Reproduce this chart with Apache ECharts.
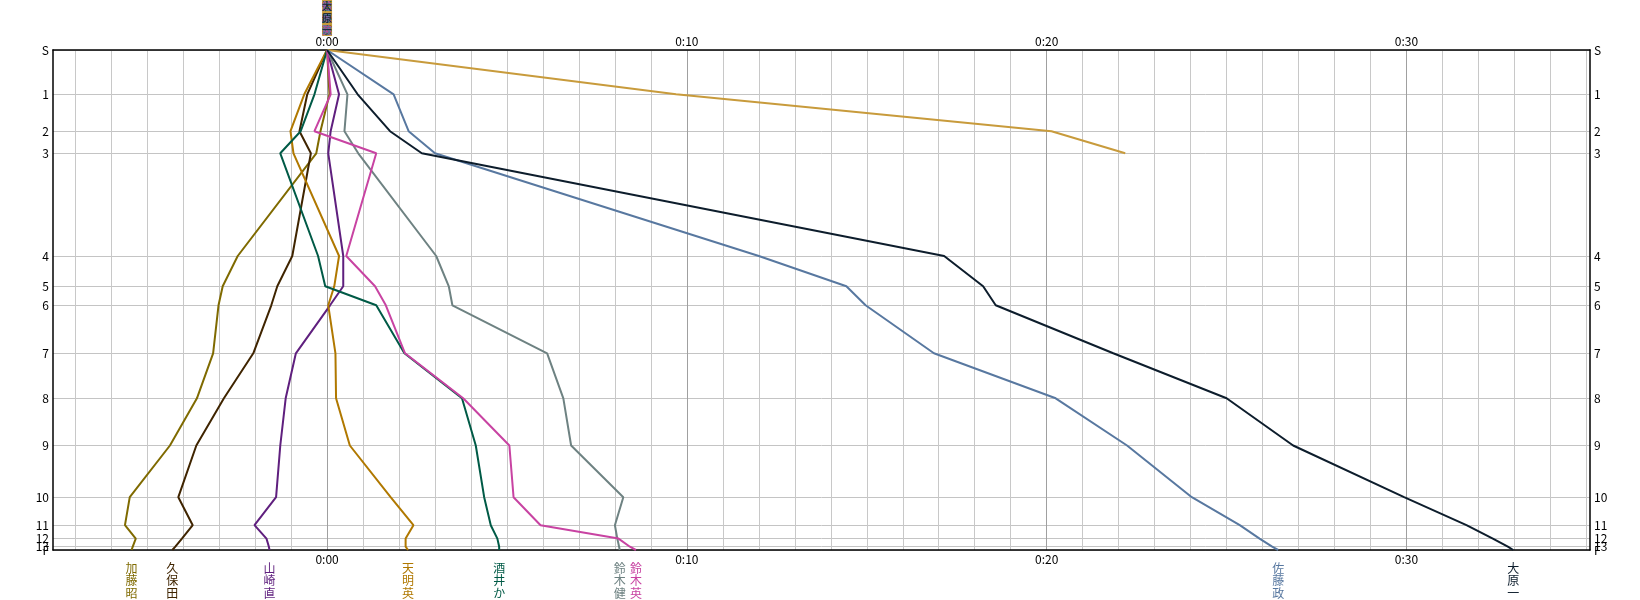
<!DOCTYPE html>
<html>
<head>
<meta charset="utf-8">
<script src="https://cdn.jsdelivr.net/npm/echarts@6/dist/echarts.min.js"></script>
<style>
html,body{margin:0;padding:0;background:#fff;}
#chart{width:1640px;height:600px;}
</style>
</head>
<body>
<div id="chart"></div>
<script>
// Controls (y): labels and their position along the course scale
const controlLabels = ['S','1','2','3','4','5','6','7','8','9','10','11','12','13','F'];
const controlDist   = [0, 44.3, 81.2, 103.3, 206, 236.3, 255.3, 303.3, 348.3, 395.5, 447.2, 475.2, 488.6, 496.7, 500];

// Time-axis labels (seconds)
const timeTicks = [0, 600, 1200, 1800];

// Runners: time difference (seconds) at each control
const runnerNames = ['加藤昭','久保田','山崎直','天明英','酒井か','鈴木健','鈴木英','佐藤政','大原一'];
const katoAki   = [0, 4, -11, -18, -149, -174, -181, -190, -217, -262, -329, -337, -319, -324, -326];
const kubota    = [0, -33, -46, -27, -58, -83, -93, -123, -172, -218, -248, -224, -242, -253, -258];
const yamazaki  = [0, 20, 6, 2, 27, 27, 5, -52, -69, -78, -85, -121, -101, -97, -96];
const tenmyo    = [0, -38, -61, -56, 20, 12, 2, 14, 15, 38, 106, 144, 131, 131, 135];
const sakai     = [0, -21, -44, -78, -15, -3, 82, 129, 225, 248, 262, 273, 284, 287, 287];
const suzukiKen = [0, 34, 29, 52, 182, 203, 209, 367, 394, 407, 494, 480, 484, 487, 488];
const suzukiEi  = [0, 6, -21, 82, 32, 80, 98, 130, 227, 304, 311, 356, 486, 505, 515];
const satoMasa  = [0, 111, 136, 180, 720, 866, 898, 1012, 1215, 1334, 1442, 1522, 1555, 1576, 1586];
const oharaKazu = [0, 51, 105, 158, 1029, 1094, 1115, 1311, 1500, 1611, 1796, 1900, 1944, 1969, 1978];
const dnfRunner = [0, 582, 1208, 1331];

const runnerValues = [katoAki, kubota, yamazaki, tenmyo, sakai, suzukiKen, suzukiEi, satoMasa, oharaKazu];
const runnerColors = ['#7f6a00','#3f2400','#5f1f7e','#b07800','#005a46','#6e8282','#c843a2','#5878a0','#0d1d2c'];
const dnfColor = '#c89b3c';

const X_MIN = -457, X_MAX = 2106;
const minorTicks = [];
for (let s = -420; s <= 2100; s += 60) if (timeTicks.indexOf(s) < 0) minorTicks.push(s);

// Labels "12" and "13" crowd "F": each gets its own overlay axis so all are drawn
const crowded = ['12', '13'].map(l => controlLabels.indexOf(l));
const mainLabelValues = controlDist.filter((d, i) => crowded.indexOf(i) < 0);

const FONT = "'Noto Sans CJK JP', 'DejaVu Sans', sans-serif";

function fmtTime(v) {
  const m = Math.round(v / 60);
  const h = Math.floor(m / 60);
  const mm = m - h * 60;
  return h + ':' + (mm < 10 ? '0' : '') + mm;
}
function fmtControl(v) {
  let best = 0, bd = Infinity;
  controlDist.forEach((d, i) => { const dd = Math.abs(d - v); if (dd < bd) { bd = dd; best = i; } });
  return controlLabels[best];
}
function toPairs(vals) { return vals.map((v, i) => [v, controlDist[i]]); }
function vertical(name) { return name.split('').join('\n'); }

const series = [];
series.push({
  type: 'line', name: 'dnf', data: toPairs(dnfRunner), symbol: 'none',
  lineStyle: { width: 2, color: dnfColor }, itemStyle: { color: dnfColor }, z: 2,
  markPoint: {
    symbol: 'circle', symbolSize: 0.1, itemStyle: { color: 'rgba(0,0,0,0)' },
    data: [{ coord: [dnfRunner[0], controlDist[0]],
      label: { show: true, position: 'top', distance: 14, formatter: '\u3000\n\u3000\n\u3000',
        fontSize: 10, lineHeight: 12, backgroundColor: dnfColor, color: dnfColor, fontFamily: FONT } }]
  }
});
runnerNames.forEach((name, k) => {
  const vals = runnerValues[k];
  const col = runnerColors[k];
  const last = vals.length - 1;
  series.push({
    type: 'line', name: name, data: toPairs(vals), symbol: 'none',
    lineStyle: { width: 2, color: col }, itemStyle: { color: col }, z: 3 + k,
    markPoint: {
      symbol: 'circle', symbolSize: 0.1, itemStyle: { color: 'rgba(0,0,0,0)' },
      data: [
        { coord: [vals[last], controlDist[last]],
          label: { show: true, position: 'bottom', distance: 12, formatter: vertical(name),
            fontSize: 12, lineHeight: 12.5, color: col, fontFamily: FONT } },
        { coord: [vals[0], controlDist[0]],
          label: { show: true, position: 'top', distance: 14, formatter: vertical(name),
            fontSize: 10, lineHeight: 12, color: col, fontFamily: FONT } }
      ]
    }
  });
});

const axisLineBlack = { show: true, onZero: false, lineStyle: { color: '#000', width: 1.5 } };
function yLabel(values) {
  return { customValues: values, formatter: fmtControl, color: '#000', fontSize: 12, margin: 4,
    fontFamily: FONT, showMinLabel: true, showMaxLabel: true, hideOverlap: false };
}
const xLabel = { customValues: timeTicks, formatter: fmtTime, color: '#000', fontSize: 12, margin: 3,
  fontFamily: FONT, showMinLabel: true, showMaxLabel: true, hideOverlap: false };

function overlayY(pos, values) {
  return { type: 'value', position: pos, inverse: true, min: 0, max: 500,
    axisLine: { show: false, onZero: false },
    axisTick: { show: false, customValues: values },
    axisLabel: yLabel(values),
    splitLine: { show: false } };
}

const yAxes = [
  { type: 'value', position: 'left', inverse: true, min: 0, max: 500,
    axisLine: axisLineBlack,
    axisTick: { show: false, customValues: controlDist },
    axisLabel: yLabel(mainLabelValues),
    splitLine: { show: true, lineStyle: { color: '#c4c4c4', width: 1 } } },
  { type: 'value', position: 'right', inverse: true, min: 0, max: 500,
    axisLine: axisLineBlack,
    axisTick: { show: false, customValues: controlDist },
    axisLabel: yLabel(mainLabelValues),
    splitLine: { show: false } }
];
crowded.forEach(i => {
  yAxes.push(overlayY('left', [controlDist[i]]));
  yAxes.push(overlayY('right', [controlDist[i]]));
});

const option = {
  animation: false,
  backgroundColor: '#fff',
  grid: { left: 53, right: 50, top: 50, bottom: 50, containLabel: false },
  xAxis: [
    { type: 'value', position: 'bottom', min: X_MIN, max: X_MAX,
      axisLine: axisLineBlack,
      axisTick: { show: false, customValues: timeTicks },
      axisLabel: xLabel,
      splitLine: { show: true, lineStyle: { color: '#a0a0a0', width: 1 } } },
    { type: 'value', position: 'top', min: X_MIN, max: X_MAX,
      axisLine: axisLineBlack,
      axisTick: { show: false, customValues: minorTicks },
      axisLabel: xLabel,
      splitLine: { show: true, lineStyle: { color: '#c8c8c8', width: 1 } } }
  ],
  yAxis: yAxes,
  series: series
};

const chart = echarts.init(document.getElementById('chart'), null, { renderer: 'canvas' });
chart.setOption(option);
</script>
</body>
</html>
